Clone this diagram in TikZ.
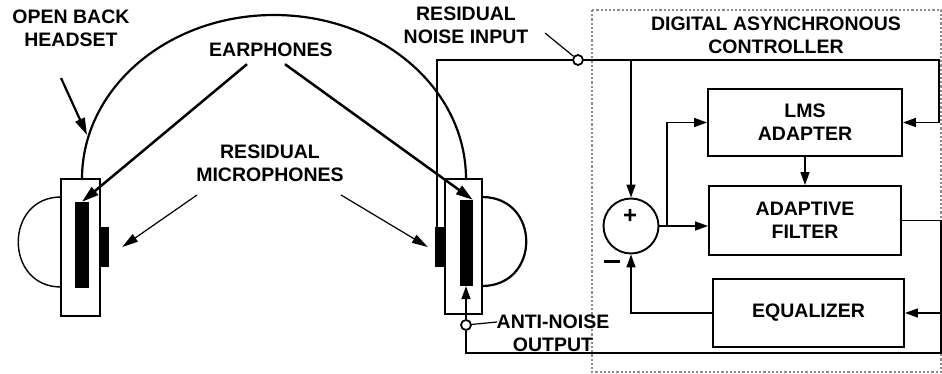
\documentclass[tikz,border=0pt]{standalone}
\usepackage{fontspec}
\setmainfont{Liberation Sans}
\usetikzlibrary{arrows.meta, positioning}

\begin{document}
\begin{tikzpicture}[x=1pt, y=-1pt,
    caption/.style={font=\bfseries\fontsize{19.5}{23}\selectfont, inner sep=0pt, align=center},
    block/.style={rectangle, draw, line width=1.9pt, inner sep=0pt, caption},
    wire/.style={line width=1.6pt},
    arrow/.style={-{Triangle[length=13pt, width=9pt]}, line width=1.6pt},
    bigarrow/.style={-{Triangle[length=17pt, width=10pt]}, line width=2.5pt},
    thinarrow/.style={-{Triangle[length=16pt, width=9pt]}, line width=1.2pt},
    leader/.style={line width=1.2pt},
    port/.style={circle, draw, line width=1.8pt, fill=white, minimum size=10pt, inner sep=0pt},
    cup/.style={rectangle, draw, line width=2.4pt, fill=white, inner sep=0pt},
    bar/.style={rectangle, fill=black, inner sep=0pt}
]
\useasboundingbox (0,0) rectangle (942,374);

% Controller outline
\draw[gray!90, dotted, line width=2.2pt] (592,10) rectangle (941,372);
\node[caption, anchor=north] (lbl-ctrl) at (776,17) {DIGITAL ASYNCHRONOUS\\CONTROLLER};

% Headband
\draw[line width=2.2pt] (82,179) .. controls (82,88) and (168,15) .. (274,15)
    .. controls (380,15) and (466,88) .. (466,179);

% Left earcup
\draw[line width=1.4pt] (61,197) .. controls (4,197) and (4,287) .. (61,287);
\node[cup, minimum width=39pt, minimum height=137pt] (lcup) at (80.5,247.5) {};
\node[bar, minimum width=14pt, minimum height=86pt] (lspk) at (82,245) {};
\node[bar, minimum width=9pt, minimum height=40pt] (lmic) at (104.5,247) {};

% Right earcup
\draw[line width=2.2pt] (482,197) .. controls (541,197) and (541,286) .. (482,286);
\node[cup, minimum width=37pt, minimum height=135pt] (rcup) at (463.5,246.5) {};
\node[bar, minimum width=13pt, minimum height=86pt] (rspk) at (466,243) {};
\node[bar, minimum width=10pt, minimum height=40pt] (rmic) at (440,247) {};

% Headset labels
\node[caption, anchor=north] (lbl-hs) at (71,10) {OPEN BACK\\HEADSET};
\node[caption, anchor=north] (lbl-ear) at (271,43) {EARPHONES};
\node[caption, anchor=north] (lbl-mic) at (270,145) {RESIDUAL\\MICROPHONES};

\coordinate (hs-tip) at (87,135);
\draw[bigarrow, line width=2.2pt] (61,78) -- (hs-tip);
\draw[bigarrow] ([xshift=-24pt, yshift=-7pt]lbl-ear.south) -- (lspk.north);
\draw[bigarrow] ([xshift=14pt, yshift=-7pt]lbl-ear.south) -- (rspk.north east);
\draw[thinarrow] (197,195) -- ([xshift=13pt]lmic.east);
\draw[thinarrow] (341,195) -- ([xshift=-7pt]rmic.west);

% Controller blocks
\node[block, minimum width=194pt, minimum height=67pt] (lms) at (805,122.5) {LMS\\ADAPTER};
\node[block, minimum width=192pt, minimum height=69pt] (filter) at (805,220.5) {ADAPTIVE\\FILTER};
\node[block, minimum width=191pt, minimum height=68pt] (eq) at (808.5,313) {EQUALIZER};
\node[circle, draw, line width=1.9pt, minimum size=55pt, inner sep=0pt] (sum) at (631,226) {};
\node[caption, font=\bfseries\fontsize{24}{24}\selectfont] (plus) at (630,216) {+};
\node[inner sep=0pt] (minus) at (612,261) {\rule{16pt}{3pt}};

% Ports
\node[port] (in) at (578,60) {};
\node[port] (out) at (466,325) {};
\node[caption, anchor=north] (lbl-in) at (466,7) {RESIDUAL\\NOISE INPUT};
\node[caption, anchor=north] (lbl-out) at (553,315) {ANTI-NOISE\\OUTPUT};
\coordinate (in-lead) at (545,33);
\coordinate (out-lead) at (497,322);
\draw[leader] (in-lead) -- (in);
\draw[leader] (out) -- (out-lead);

% Signal paths
\coordinate (tr) at (939,60);
\coordinate (br) at (941,353);
\coordinate (tap) at (667,226);
\draw[wire] ([xshift=-3pt]rmic.north) |- (in.west);
\draw[arrow] (in.east) -- (tr) |- (lms.east);
\draw[arrow] (sum.north |- tr) -- (sum.north);
\draw[arrow] (sum.east) -- (sum.east -| filter.west);
\draw[arrow] (tap) |- (lms.west);
\draw[arrow] (lms.south) -- (filter.north);
\draw[wire] (filter.east) -| (br) -| (out.south);
\draw[arrow] (out.north) -- (rspk.south);
\draw[arrow] (eq.east -| br) -- (eq.east);
\draw[arrow] (eq.west) -| (sum.south);
\end{tikzpicture}
\end{document}
